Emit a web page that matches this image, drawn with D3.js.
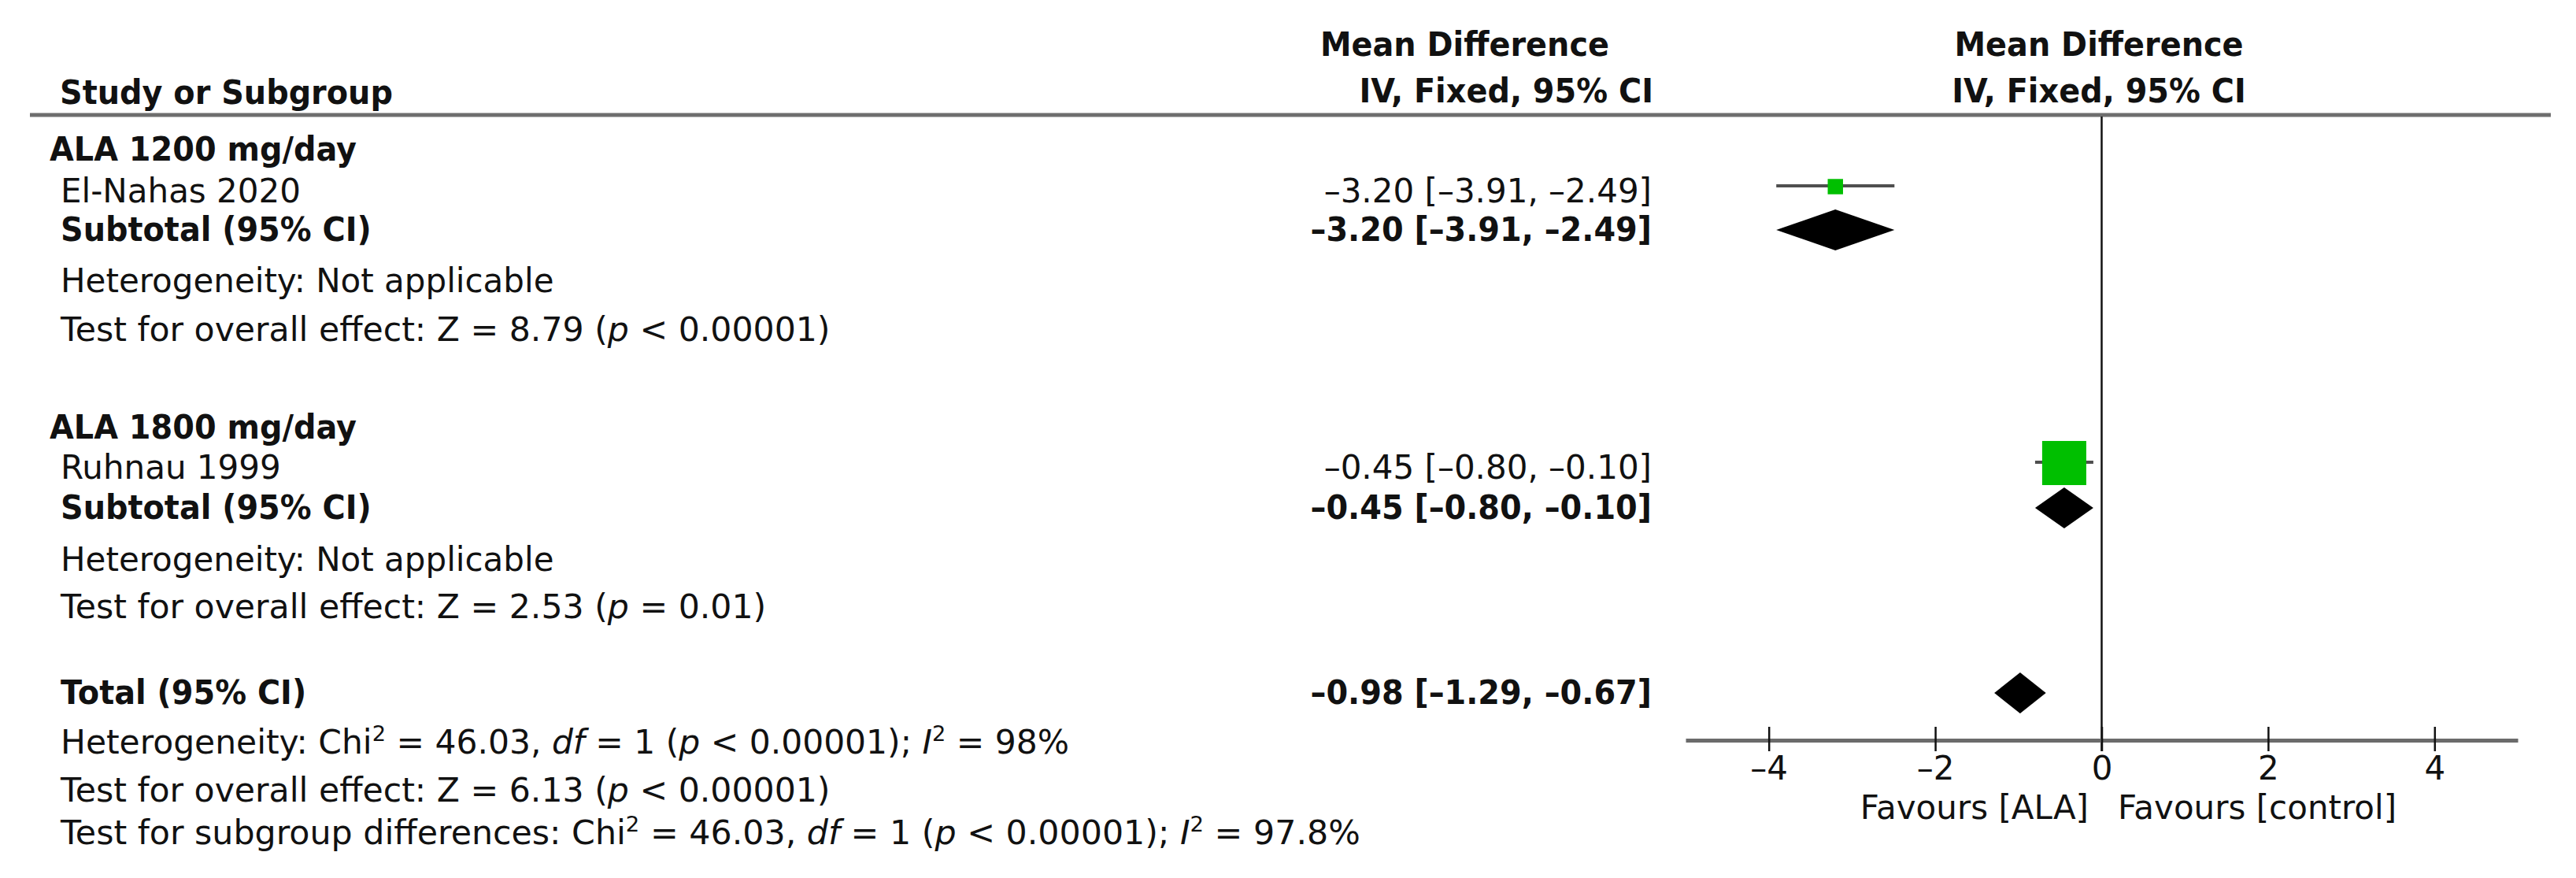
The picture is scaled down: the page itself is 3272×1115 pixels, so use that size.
<!DOCTYPE html>
<html><head><meta charset="utf-8">
<script src="https://cdn.jsdelivr.net/npm/d3@7"></script>
<style>
body{margin:0;background:#fff;}
svg text{font-family:"DejaVu Sans",sans-serif;fill:#111;}
</style>
</head><body>
<svg id="chart" width="3272" height="1115"></svg>
<script>
// ---------------- data ----------------
const subgroups = ["ALA 1200 mg/day", "ALA 1800 mg/day"];
const studies = ["El-Nahas 2020", "Ruhnau 1999"];
const studyMD = [-3.20, -0.45];
const studyLow = [-3.91, -0.80];
const studyHigh = [-2.49, -0.10];
const studyWeight = [19.6, 80.4];
const subtotalMD = [-3.20, -0.45];
const subtotalLow = [-3.91, -0.80];
const subtotalHigh = [-2.49, -0.10];
const subtotalZ = ["8.79", "2.53"];
const subtotalP = ["< 0.00001", "= 0.01"];
const totalMD = [-0.98];
const totalLow = [-1.29];
const totalHigh = [-0.67];
const totalChi2 = "46.03", totalDf = "1", totalHetP = "< 0.00001", totalI2 = "98%";
const totalZ = "6.13", totalZP = "< 0.00001";
const subDiffChi2 = "46.03", subDiffDf = "1", subDiffP = "< 0.00001", subDiffI2 = "97.8%";
const xTicks = [-4, -2, 0, 2, 4];
const xDomain = [-5, 5];
const favoursLabels = ["Favours [ALA]", "Favours [control]"];

// ---------------- layout ----------------
const svg = d3.select("#chart");
const FS = 42, BOLD_SX = 0.948;
const fmt = v => d3.format(".2f")(v).replace("-", "\u2013").replace("−", "\u2013");
const ciText = (m, l, h) => `${fmt(m)} [${fmt(l)}, ${fmt(h)}]`;

// segments: string or [string, "i"|"s"]
function txt(x, y, segs, opt = {}) {
  const bold = !!opt.bold;
  const sx = (bold ? BOLD_SX : 1) * (opt.sx || 1);
  const g = svg.append("g").attr("transform", `translate(${x},${y}) scale(${sx},1)`);
  const t = g.append("text").attr("x", 0).attr("y", 0)
    .attr("font-size", opt.size || FS)
    .attr("font-weight", bold ? "bold" : "normal")
    .attr("text-anchor", opt.anchor || "start");
  if (typeof segs === "string") segs = [segs];
  let raised = false;
  segs.forEach(s => {
    const str = typeof s === "string" ? s : s[0];
    const st = typeof s === "string" ? "" : s[1];
    const ts = t.append("tspan").text(str);
    if (st === "i") ts.attr("font-style", "italic");
    if (st === "s") { ts.attr("font-size", 27).attr("dy", -16); raised = true; }
    else if (raised) { ts.attr("dy", 16); raised = false; }
  });
  return t;
}

const x = d3.scaleLinear().domain(xDomain).range([2141, 3198]);
const boxSide = d3.scalePow().exponent(0.75).domain([0, 100]).range([0, 66]);
const NUM_X = 2098, LEFT_H = 63, LEFT = 77;

// Headers
txt(76, 132, "Study or Subgroup", {bold: true});
txt(2044, 71, "Mean Difference", {bold: true, anchor: "end"});
txt(2100, 130, "IV, Fixed, 95% CI", {bold: true, anchor: "end"});
txt(2666, 71, "Mean Difference", {bold: true, anchor: "middle"});
txt(2666, 130, "IV, Fixed, 95% CI", {bold: true, anchor: "middle"});

svg.append("line").attr("x1", 38).attr("x2", 3240).attr("y1", 146).attr("y2", 146)
  .attr("stroke", "#6e6e6e").attr("stroke-width", 5);

// zero line
svg.append("line").attr("x1", x(0)).attr("x2", x(0)).attr("y1", 148).attr("y2", 954)
  .attr("stroke", "#111").attr("stroke-width", 2.5);

// rows
const groupBase = [[204, 257, 306, 371, 433], [557, 608, 659, 725, 785]];
subgroups.forEach((sg, i) => {
  const [yh, ys, yt, yhet, ytest] = groupBase[i];
  txt(LEFT_H, yh, sg, {bold: true});
  txt(LEFT, ys, studies[i]);
  txt(NUM_X, ys, ciText(studyMD[i], studyLow[i], studyHigh[i]), {anchor: "end"});
  txt(LEFT, yt, "Subtotal (95% CI)", {bold: true});
  txt(NUM_X, yt, ciText(subtotalMD[i], subtotalLow[i], subtotalHigh[i]), {anchor: "end", bold: true});
  txt(LEFT, yhet, "Heterogeneity: Not applicable");
  txt(LEFT, ytest, ["Test for overall effect: Z = " + subtotalZ[i] + " (", ["p", "i"], " " + subtotalP[i] + ")"], {sx: 1.015});

  // study marks
  const my = ys - 21;
  svg.append("line").attr("x1", x(studyLow[i])).attr("x2", x(studyHigh[i]))
    .attr("y1", my).attr("y2", my).attr("stroke", "#4f4f4f").attr("stroke-width", 4);
  const s = boxSide(studyWeight[i]);
  svg.append("rect").attr("x", x(studyMD[i]) - s / 2).attr("y", my - s / 2 + 1)
    .attr("width", s).attr("height", s).attr("fill", "#00bf00");
  // diamond
  const dy = yt - 14, h = 26;
  svg.append("path").attr("d",
    `M${x(subtotalLow[i])},${dy} L${x(subtotalMD[i])},${dy - h} L${x(subtotalHigh[i])},${dy} L${x(subtotalMD[i])},${dy + h} Z`)
    .attr("fill", "#000");
});

// total
txt(LEFT, 894, "Total (95% CI)", {bold: true});
txt(NUM_X, 894, ciText(totalMD[0], totalLow[0], totalHigh[0]), {anchor: "end", bold: true});
txt(LEFT, 957, ["Heterogeneity: Chi", ["2", "s"], " = " + totalChi2 + ", ", ["df", "i"], " = " + totalDf + " (", ["p", "i"],
  " " + totalHetP + "); ", ["I", "i"], ["2", "s"], " = " + totalI2], {sx: 1.01});
txt(LEFT, 1018, ["Test for overall effect: Z = " + totalZ + " (", ["p", "i"], " " + totalZP + ")"], {sx: 1.015});
txt(LEFT, 1072, ["Test for subgroup differences: Chi", ["2", "s"], " = " + subDiffChi2 + ", ", ["df", "i"], " = " + subDiffDf + " (", ["p", "i"],
  " " + subDiffP + "); ", ["I", "i"], ["2", "s"], " = " + subDiffI2], {sx: 1.018});
{
  const dy = 880, h = 26;
  svg.append("path").attr("d",
    `M${x(totalLow[0])},${dy} L${x(totalMD[0])},${dy - h} L${x(totalHigh[0])},${dy} L${x(totalMD[0])},${dy + h} Z`)
    .attr("fill", "#000");
}

// axis
const axisY = 940;
const axis = d3.axisBottom(x).tickValues(xTicks).tickSize(14).tickSizeOuter(0)
  .tickFormat(d => String(d).replace("-", "\u2013"));
const ag = svg.append("g").attr("transform", `translate(0,${axisY})`).call(axis);
ag.select(".domain").attr("stroke", "#6b6b6b").attr("stroke-width", 5);
ag.selectAll(".tick line").attr("y1", -17).attr("y2", 14).attr("stroke", "#111").attr("stroke-width", 2.5);
ag.selectAll(".tick text").attr("font-size", FS).attr("font-family", "DejaVu Sans").attr("fill", "#111")
  .attr("y", 50).attr("dy", 0);

txt(2653, 1040, favoursLabels[0], {anchor: "end"});
txt(2690, 1040, favoursLabels[1]);
</script>
</body></html>
